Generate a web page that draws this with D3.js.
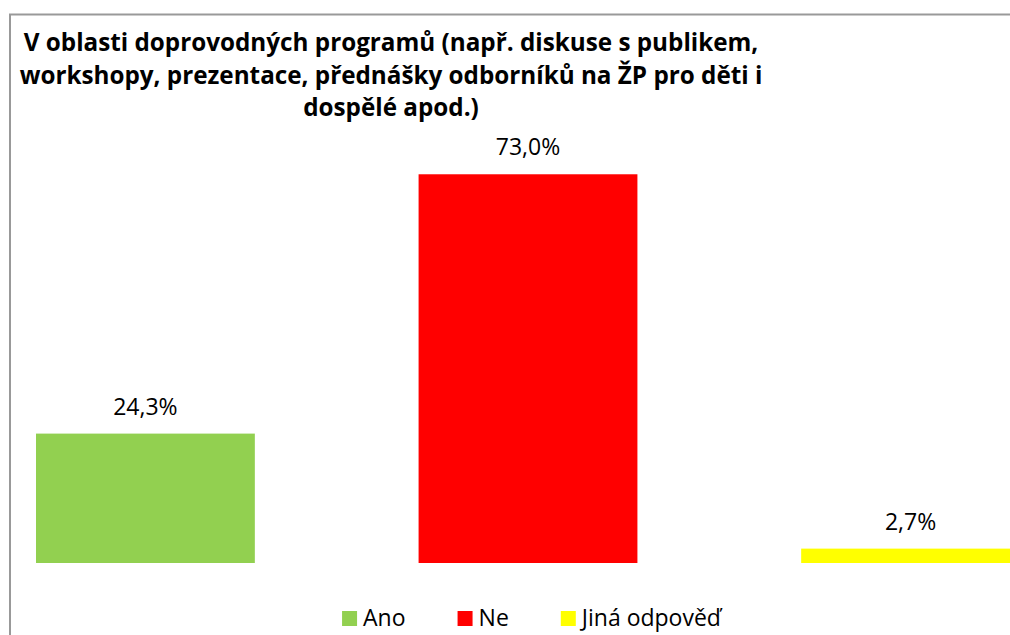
<!DOCTYPE html>
<html>
<head>
<meta charset="utf-8">
<script src="https://cdn.jsdelivr.net/npm/d3@7"></script>
<style>
  html, body { margin: 0; padding: 0; background: #fff; }
  svg { display: block; font-family: "Open Sans", "Noto Sans", sans-serif; }
</style>
</head>
<body>
<div id="chart"></div>
<script>
// data
var categories = ["Ano", "Ne", "Jiná odpověď"];
var values = [24.3, 73.0, 2.7];
var colors = ["#92d050", "#ff0000", "#ffff00"];
var titleLines = [
  "V oblasti doprovodných programů (např. diskuse s publikem,",
  "workshopy, prezentace, přednášky odborníků na ŽP pro děti i",
  "dospělé apod.)"
];

var W = 1010, H = 635;

var svg = d3.select("#chart").append("svg")
    .attr("width", W)
    .attr("height", H);

// chart frame (runs off the right and bottom edge like in the original crop)
svg.append("rect")
    .attr("x", 10)
    .attr("y", 14.5)
    .attr("width", W + 20)
    .attr("height", H + 20)
    .attr("fill", "#fff")
    .attr("stroke", "#999")
    .attr("stroke-width", 2);

// title, centered, sized so the first line is as wide as the original
var title = svg.append("g").attr("class", "title");
var tLines = title.selectAll("text")
    .data(titleLines)
  .enter().append("text")
    .attr("x", 391)
    .attr("y", function(d, i) { return 51 + i * 32.5; })
    .attr("text-anchor", "middle")
    .attr("font-weight", "bold")
    .attr("font-size", 100)
    .attr("fill", "#000")
    .text(function(d) { return d; });
var w0 = tLines.node().getComputedTextLength();
tLines.attr("font-size", 100 * 735 / w0);

// scales
var xScale = d3.scaleBand()
    .domain(categories)
    .range([36, 1020])
    .paddingInner(0.428)
    .paddingOuter(0);

var yScale = d3.scaleLinear()
    .domain([0, 80])
    .range([563, 137]);

var fmt = function(v) { return d3.format(".1f")(v).replace(".", ",") + "%"; };

// bars
svg.selectAll(".bar")
    .data(values)
  .enter().append("rect")
    .attr("class", "bar")
    .attr("x", function(d, i) { return xScale(categories[i]); })
    .attr("y", function(d) { return yScale(d); })
    .attr("width", xScale.bandwidth())
    .attr("height", function(d) { return yScale(0) - yScale(d); })
    .attr("fill", function(d, i) { return colors[i]; });

// value labels
svg.selectAll(".lbl")
    .data(values)
  .enter().append("text")
    .attr("class", "lbl")
    .attr("x", function(d, i) { return xScale(categories[i]) + xScale.bandwidth() / 2; })
    .attr("y", function(d) { return yScale(d) - 19; })
    .attr("text-anchor", "middle")
    .attr("font-size", 23)
    .attr("fill", "#000")
    .text(function(d) { return fmt(d); });

// legend
var legend = svg.append("g").attr("class", "legend");
var items = legend.selectAll(".item")
    .data(categories)
  .enter().append("g")
    .attr("class", "item");

items.append("rect")
    .attr("width", 15)
    .attr("height", 15)
    .attr("y", 611)
    .attr("fill", function(d, i) { return colors[i]; });

items.append("text")
    .attr("x", 21)
    .attr("y", 626)
    .attr("font-size", 23)
    .attr("fill", "#000")
    .text(function(d) { return d; });

var widths = [];
items.selectAll("text").each(function() { widths.push(this.getComputedTextLength()); });
var gap = 52, total = 0;
widths.forEach(function(w, i) { total += 21 + w + (i < widths.length - 1 ? gap : 0); });
var cx = 531.5 - total / 2;
items.attr("transform", function(d, i) {
  var x = cx;
  for (var k = 0; k < i; k++) x += 21 + widths[k] + gap;
  return "translate(" + x + ",0)";
});
</script>
</body>
</html>
